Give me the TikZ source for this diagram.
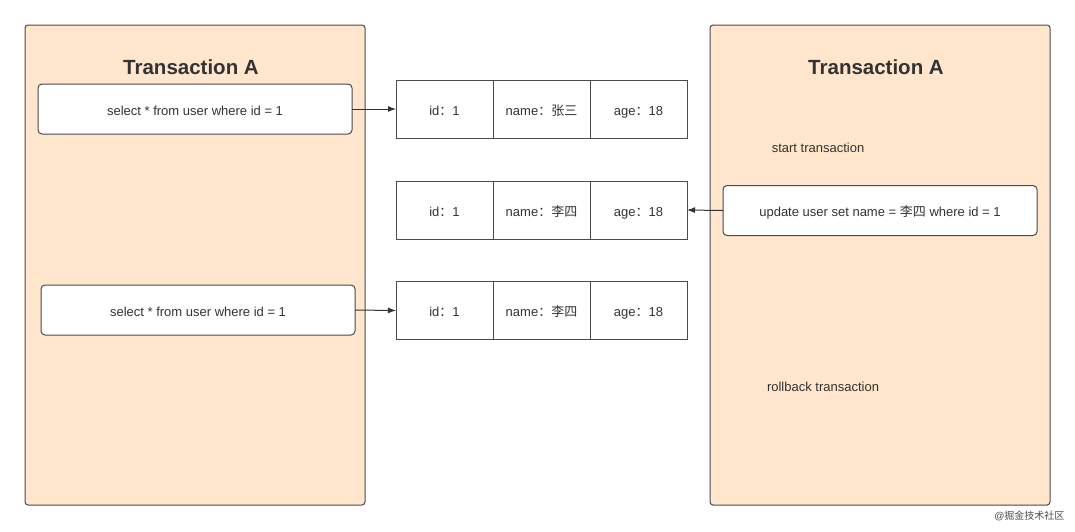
\documentclass[tikz,border=0pt]{standalone}
\usepackage{fontspec}
\setmainfont{Liberation Sans}
\newfontfamily\cjk{Noto Sans CJK SC}
\usetikzlibrary{arrows.meta,positioning}
\definecolor{peach}{HTML}{FFE6CC}
\definecolor{edge}{HTML}{4A4A4A}
\definecolor{ink}{HTML}{333333}
\begin{document}
\begin{tikzpicture}[x=1pt, y=-1pt, font=\fontsize{13}{15}\selectfont, text=ink,
  panel/.style={draw=edge, line width=1pt, fill=peach, rounded corners=3pt, minimum width=340pt, minimum height=480pt, inner sep=0pt, outer sep=0pt},
  title/.style={font=\fontsize{20.5}{24}\selectfont\bfseries},
  stmt/.style={draw=edge, line width=1pt, fill=white, rounded corners=4pt, minimum width=314pt, minimum height=50pt, inner sep=0pt, outer sep=0pt, text height=12pt, text depth=0pt},
  cell/.style={draw=edge, line width=1pt, fill=white, minimum width=97pt, minimum height=58pt, inner sep=0pt, outer sep=0pt, text height=12pt, text depth=0pt},
  flow/.style={-{Latex[length=8pt, width=6pt]}, draw=ink, line width=1pt}]
\useasboundingbox (0,0) rectangle (1075,531);
% two sessions
\node[panel] (left) at (195,265) {};
\node[panel] (right) at (880,265) {};
\node[title] (ltitle) at (191,67) {Transaction A};
\node[title] (rtitle) at (876,67) {Transaction A};
% statements
\node[stmt] (sel1) at (195,109) {select * from user where id = 1};
\node[stmt] (sel2) at (198,310) {select * from user where id = 1};
\node (start) at (818,148) {start transaction};
\node[stmt] (upd) at (880,210.5) {update user set name = {\cjk 李四} where id = 1};
\node (rollback) at (823,387) {rollback transaction};
% rows
\node[cell] (r1id) at (444.5,109) {id{\cjk ：}1};
\node[cell, right=0pt of r1id] (r1name) {name{\cjk ：张三}};
\node[cell, right=0pt of r1name] (r1age) {age{\cjk ：}18};
\node[cell] (r2id) at (444.5,210) {id{\cjk ：}1};
\node[cell, right=0pt of r2id] (r2name) {name{\cjk ：李四}};
\node[cell, right=0pt of r2name] (r2age) {age{\cjk ：}18};
\node[cell] (r3id) at (444.5,310.5) {id{\cjk ：}1};
\node[cell, right=0pt of r3id] (r3name) {name{\cjk ：李四}};
\node[cell, right=0pt of r3name] (r3age) {age{\cjk ：}18};
\draw[flow] (sel1.east) -- (r1id.west);
\draw[flow] (upd.west) -- (r2age.east);
\draw[flow] (sel2.east) -- (r3id.west);
\node[font=\fontsize{10}{12}\selectfont, text=black!70, anchor=east] (mark) at (1068,516) {@{\cjk 掘金技术社区}};
\end{tikzpicture}
\end{document}
